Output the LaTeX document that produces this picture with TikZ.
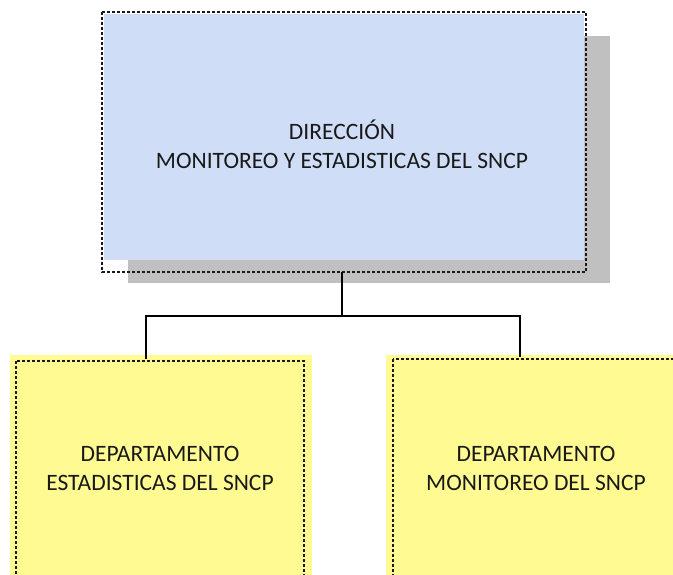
\documentclass[tikz,border=0pt]{standalone}
\usepackage{fontspec}
\setmainfont{Carlito}
\definecolor{topblue}{RGB}{207,221,247}
\definecolor{depyellow}{RGB}{255,250,146}
\definecolor{shadowgray}{RGB}{192,192,192}
\tikzset{
  dotborder/.style={draw=black!90, line width=2.8pt, dash pattern=on 3pt off 2pt},
  conn/.style={draw=black, line width=1.8pt},
  lbl/.style={font=\fontsize{23.5}{29}\selectfont, align=center, text=black!90}
}
\begin{document}
\begin{tikzpicture}[x=1pt,y=-1pt]
\useasboundingbox (0,0) rectangle (673,575);
% top box
\fill[shadowgray] (128,36) rectangle (610,283);
\fill[topblue] (104,14) rectangle (584,260);
\draw[dotborder] (102,12) rectangle (586,272);
\coordinate (topbot) at (342,272);
\node[lbl] (top) at (342,144) {DIRECCIÓN\\MONITOREO Y ESTADISTICAS DEL SNCP};
% bottom boxes
\fill[depyellow] (10,355) rectangle (312,580);
\draw[dotborder] (16,361) rectangle (304,590);
\fill[depyellow] (386,355) rectangle (680,580);
\draw[dotborder] (393,359) rectangle (690,590);
\node[lbl] (dl) at (160,468) {DEPARTAMENTO\\ESTADISTICAS DEL SNCP};
\node[lbl] (dr) at (536,468) {DEPARTAMENTO\\MONITOREO DEL SNCP};
\coordinate (lt) at (146,359);
\coordinate (rt) at (520,357);
\coordinate (jn) at (342,316);
\draw[conn] (topbot) -- (jn);
\draw[conn] (lt) |- (jn) -| (rt);
\end{tikzpicture}
\end{document}
